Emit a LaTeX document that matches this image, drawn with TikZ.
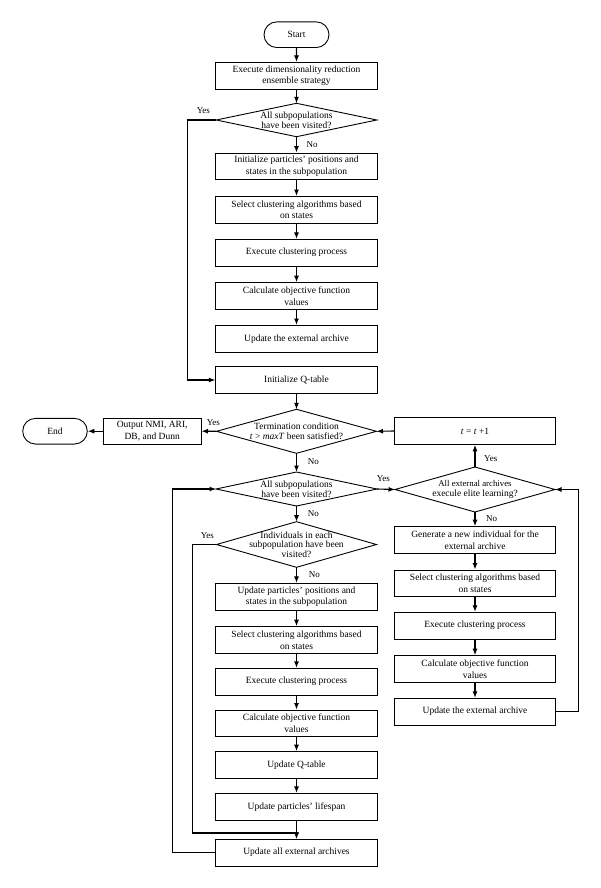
\documentclass[tikz,border=0pt]{standalone}
\usepackage{fontspec}
\setmainfont{Liberation Serif}
\usetikzlibrary{arrows.meta,shapes.misc}
\tikzset{
 box/.style={draw, line width=0.9pt, minimum width=161.5pt, minimum height=26.7pt, inner sep=1pt, align=center, font=\fontsize{9.5}{11.5}\selectfont},
 term/.style={draw, line width=0.9pt, rounded rectangle, minimum width=67pt, minimum height=25.7pt, inner sep=1pt, font=\fontsize{9.5}{11.5}\selectfont},
 dtext/.style={align=center, inner sep=0pt, font=\fontsize{9.5}{9.6}\selectfont},
 arr/.style={line width=1.1pt, -{Latex[length=6.5pt,width=5pt]}},
 lbl/.style={font=\fontsize{9}{10}\selectfont, inner sep=0pt},
 dshape/.style={line width=0.9pt, line join=miter}
}
\newcommand\mydiam[6]{%
 \node[dtext] (#1) at (#2,#3) {#6};
 \coordinate (#1-l) at ({#2-#4},#3);
 \coordinate (#1-r) at ({#2+#4},#3);
 \coordinate (#1-t) at (#2,{#3-#5});
 \coordinate (#1-b) at (#2,{#3+#5});
 \draw[dshape] (#1-t) -- (#1-r) -- (#1-b) -- (#1-l) -- cycle;
}
\begin{document}
\begin{tikzpicture}[x=1pt,y=-1pt]
\useasboundingbox (0,0) rectangle (600,888);
% main column
\node[term] (start) at (296.5,34.7) {Start};
\node[box] (b1) at (296.5,75.8) {Execute dimensionality reduction\\ensemble strategy};
\mydiam{d1}{296.5}{120}{80.3}{16.7}{\fontsize{9.5}{11}\selectfont All subpopulations\\have been visited?}
\node[box] (b2) at (296.5,166.3) {Initialize particles' positions and\\states in the subpopulation};
\node[box] (b3) at (296.5,209.8) {Select clustering algorithms based\\on states};
\node[box] (b4) at (296.5,252.7) {Execute clustering process};
\node[box] (b5) at (296.5,296) {Calculate objective function\\values};
\node[box] (b6) at (296.5,338.8) {Update the external archive};
\node[box] (b7) at (296.5,380) {Initialize Q-table};
\mydiam{d2}{296.5}{431.3}{80}{22}{Termination condition\\\textit{t} > \textit{maxT} been satisfied?}
\node[box, minimum width=97.7pt, minimum height=25.7pt] (out) at (152.2,431.2) {Output NMI, ARI,\\DB, and Dunn};
\node[term, minimum width=66.6pt] (end) at (55,431.2) {End};
\mydiam{d3}{296.5}{489}{80.5}{17}{All subpopulations\\have been visited?}
\mydiam{d5}{296.5}{544.5}{80}{22.8}{Individuals in each\\subpopulation have been\\visited?}
\node[box] (L1) at (296.5,596.7) {Update particles' positions and\\states in the subpopulation};
\node[box] (L2) at (296.5,640) {Select clustering algorithms based\\on states};
\node[box] (L3) at (296.5,681.7) {Execute clustering process};
\node[box] (L4) at (296.5,723.3) {Calculate objective function\\values};
\node[box] (L5) at (296.5,765) {Update Q-table};
\node[box] (L6) at (296.5,806.7) {Update particles' lifespan};
\node[box] (L7) at (296.5,852.7) {Update all external archives};
% right column
\node[box] (tb) at (475,431) {\textit{t} = \textit{t} +1};
\mydiam{d4}{475}{489.5}{80}{22.5}{\fontsize{8.8}{9.4}\selectfont All external archives\\execule elite learning?}
\node[box] (R1) at (475,540) {Generate a new individual for the\\external archive};
\node[box] (R2) at (475,583.3) {Select clustering algorithms based\\on states};
\node[box] (R3) at (475,625.7) {Execute clustering process};
\node[box] (R4) at (475,669) {Calculate objective function\\values};
\node[box] (R5) at (475,711.7) {Update the external archive};
% corner coordinates
\coordinate (k1) at (187.3,120);
\coordinate (k2) at (172.7,489);
\coordinate (k3) at (192.7,544.5);
\coordinate (k4) at (296.5,833);
\coordinate (k5) at (578.3,489.5);
% connectors
\draw[arr] (start) -- (b1);
\draw[arr] (b1) -- (d1-t);
\draw[arr] (d1-b) -- (b2);
\draw[arr] (b2) -- (b3);
\draw[arr] (b3) -- (b4);
\draw[arr] (b4) -- (b5);
\draw[arr] (b5) -- (b6);
\draw[arr] (d1-l) -- (k1) |- (b7.west);
\draw[arr] (b7) -- (d2-t);
\draw[arr] (d2-l) -- (out.east);
\draw[arr] (out.west) -- (end.east);
\draw[arr] (d2-b) -- (d3-t);
\draw[arr] (tb.west) -- (d2-r);
\draw[arr] (d3-r) -- (d4-l);
\draw[arr] (d4-t) -- (tb.south);
\draw[arr] (d4-b) -- (R1.north);
\draw[arr] (R1) -- (R2);
\draw[arr] (R2) -- (R3);
\draw[arr] (R3) -- (R4);
\draw[arr] (R4) -- (R5);
\draw[arr] (R5.east) -| (k5) -- (d4-r);
\draw[arr] (d3-b) -- (d5-t);
\draw[arr] (d5-b) -- (L1.north);
\draw[arr] (L1) -- (L2);
\draw[arr] (L2) -- (L3);
\draw[arr] (L3) -- (L4);
\draw[arr] (L4) -- (L5);
\draw[arr] (L5) -- (L6);
\draw[arr] (L6) -- (L7);
\draw[arr] (d5-l) -- (k3) |- (k4) -- (L7.north);
\draw[arr] (L7.west) -| (k2) -- (d3-l);
% labels
\node[lbl] (y1) at (203.3,111) {Yes};
\node[lbl] (n1) at (312,145) {No};
\node[lbl] (y2) at (213.3,422.7) {Yes};
\node[lbl] (n2) at (313.3,461.7) {No};
\node[lbl] (y3) at (383.3,479) {Yes};
\node[lbl] (n3) at (313.3,513.3) {No};
\node[lbl] (y5) at (207.3,535.7) {Yes};
\node[lbl] (n5) at (314.3,575) {No};
\node[lbl] (y4) at (490.7,459) {Yes};
\node[lbl] (n4) at (491.7,518.3) {No};
\end{tikzpicture}
\end{document}
